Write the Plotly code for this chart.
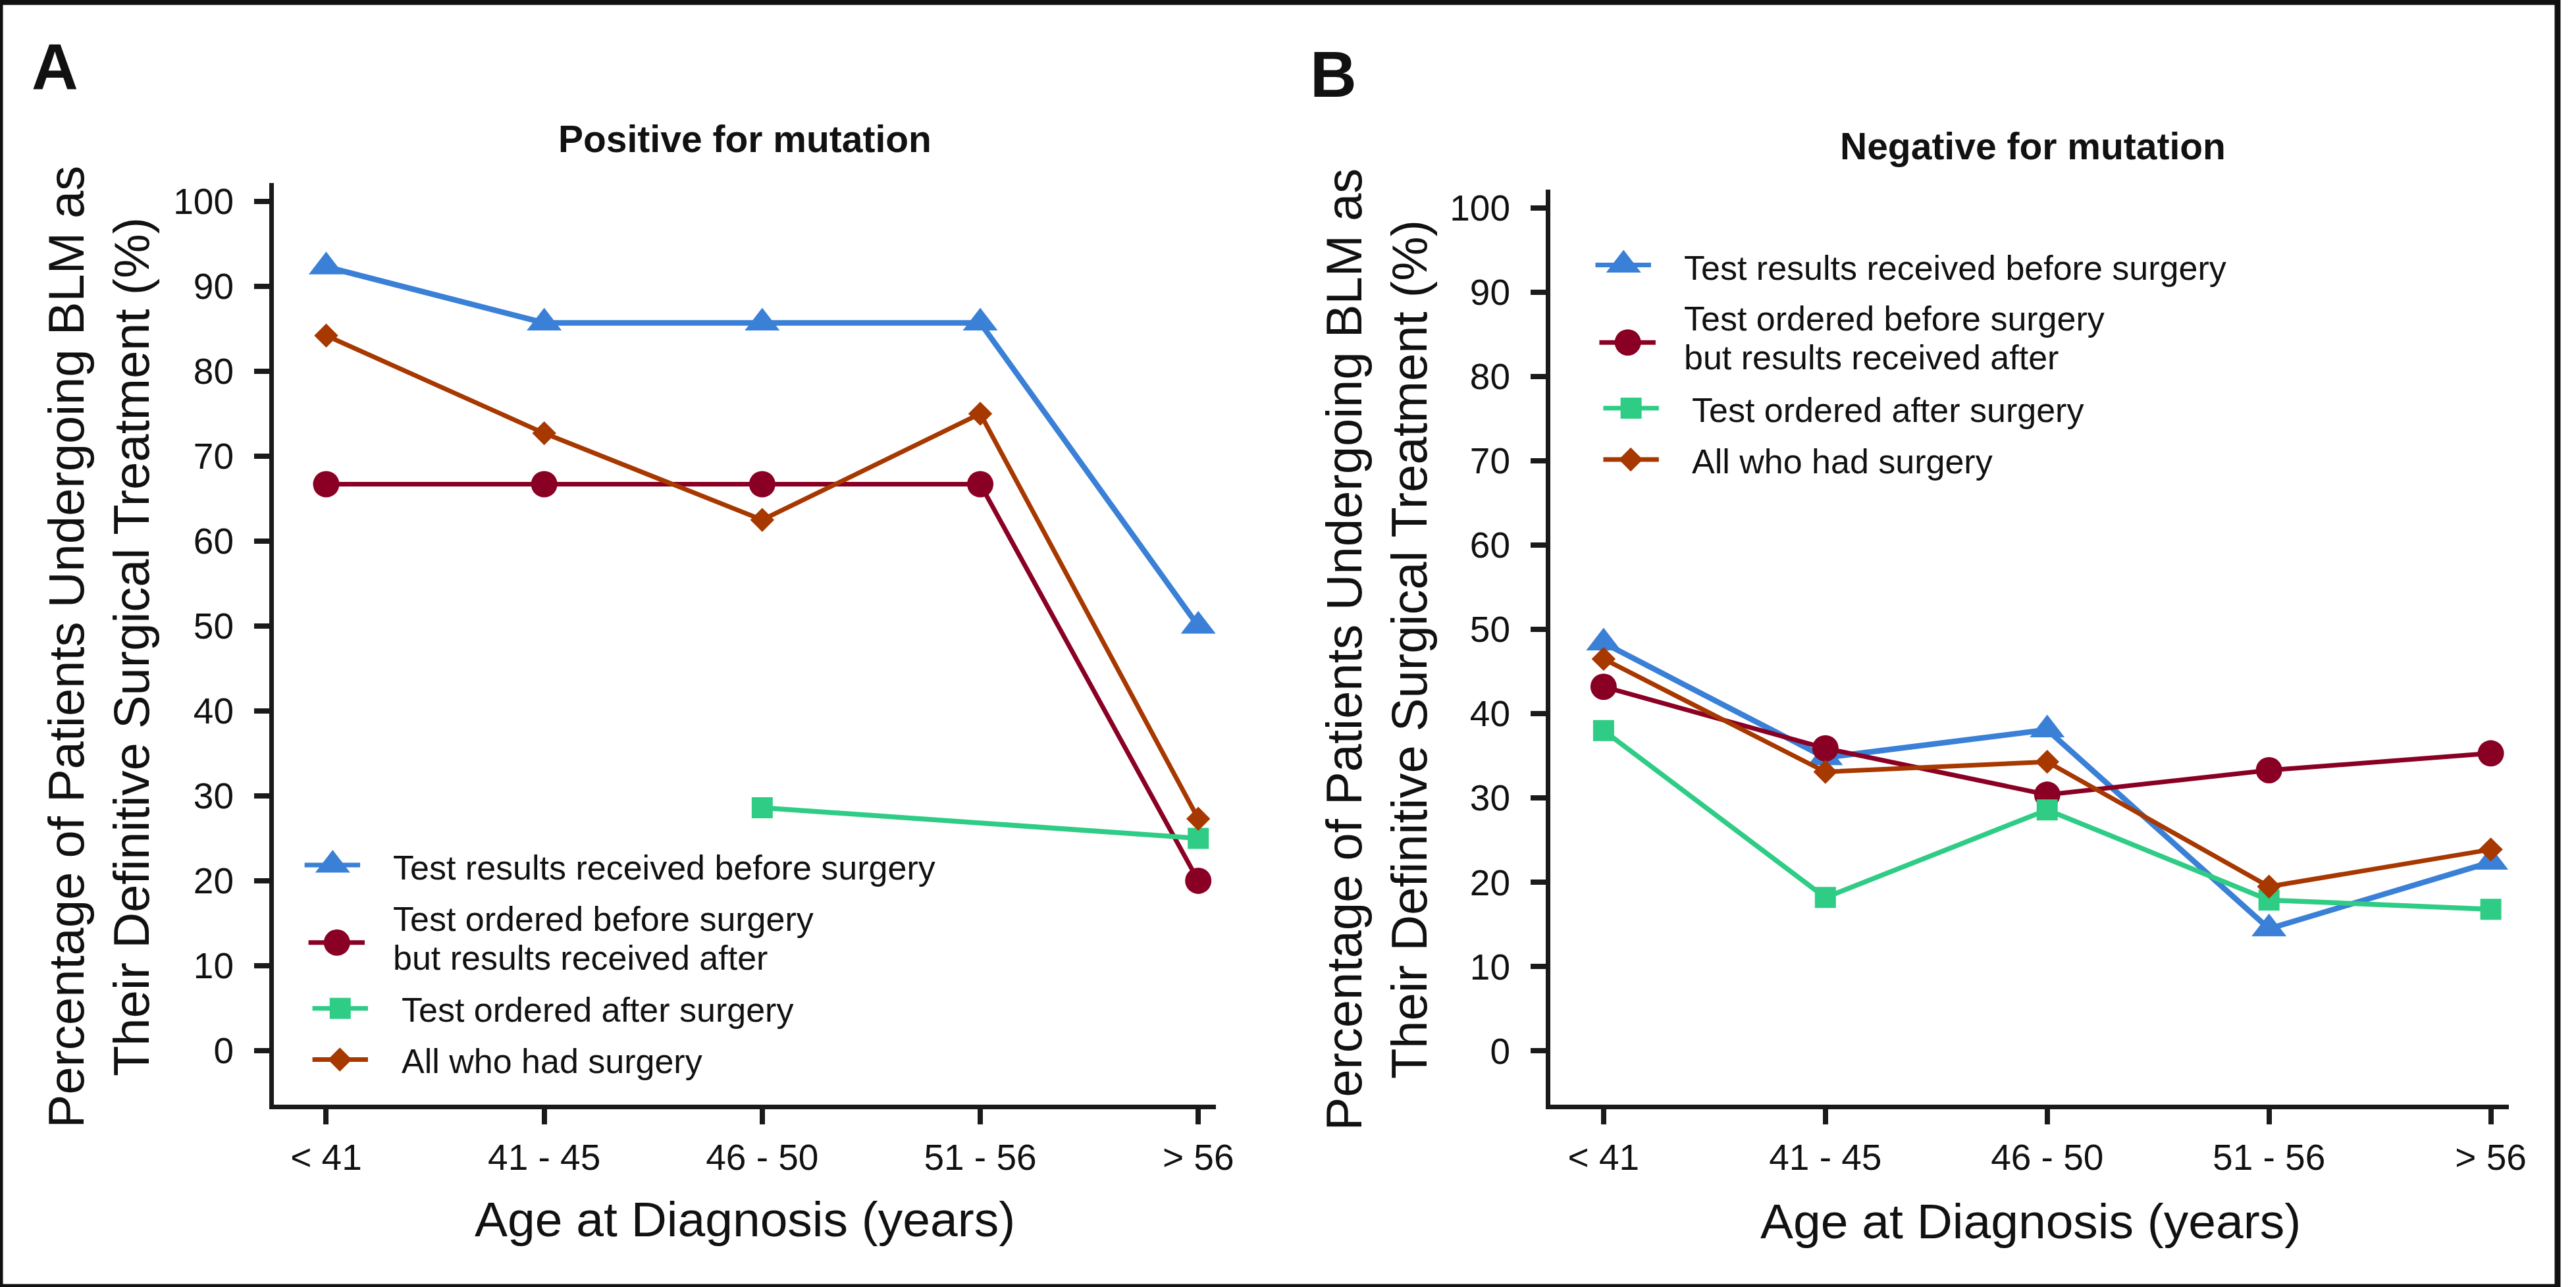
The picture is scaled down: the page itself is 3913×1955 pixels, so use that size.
import plotly.graph_objects as go

W, H = 3913, 1955

# ---------------- data ----------------
age_groups = ["< 41", "41 - 45", "46 - 50", "51 - 56", "> 56"]
y_ticks = [0, 10, 20, 30, 40, 50, 60, 70, 80, 90, 100]

series_names = [
    "Test results received before surgery",
    "Test ordered before surgery<br>but results received after",
    "Test ordered after surgery",
    "All who had surgery",
]

# Panel A: positive for mutation
pos_results_before = [92.3, 85.7, 85.7, 85.7, 50.0]
pos_ordered_before = [66.7, 66.7, 66.7, 66.7, 20.0]
pos_ordered_after = [None, None, 28.6, None, 25.0]
pos_all_surgery = [84.2, 72.7, 62.5, 75.0, 27.3]

# Panel B: negative for mutation
neg_results_before = [48.4, 34.8, 38.1, 14.5, 22.4]
neg_ordered_before = [43.2, 35.9, 30.4, 33.3, 35.3]
neg_ordered_after = [38.0, 18.2, 28.6, 17.9, 16.8]
neg_all_surgery = [46.5, 33.1, 34.3, 19.5, 23.9]

panel_titles = ["Positive for mutation", "Negative for mutation"]
panel_letters = ["A", "B"]
x_title = "Age at Diagnosis (years)"
y_title = "Percentage of Patients Undergoing BLM as<br>Their Definitive Surgical Treatment (%)"

# ---------------- style ----------------
colors = ["#3a80d6", "#8a0024", "#2fcc85", "#a63800"]
symbols = ["triangle-up", "circle", "square", "diamond"]
msizes = [46, 40, 32, 28]
lwidths = [8.5, 7, 7.5, 7]
FONT = "Liberation Sans, Arial, Helvetica, sans-serif"
INK = "#111111"


def fx(px):
    return px / W


def fy(py):
    return 1 - py / H


panels = [
    dict(series=[pos_results_before, pos_ordered_before, pos_ordered_after, pos_all_surgery],
         xa="x", ya="y", xdom=[fx(419), fx(1860)], ydom=[fy(1678), fy(275)],
         title_xy=(1140, 208), letter_xy=(84, 98), xt_xy=(1140, 1852), yt_xy=(152, 981),
         leg=(509, 1313)),
    dict(series=[neg_results_before, neg_ordered_before, neg_ordered_after, neg_all_surgery],
         xa="x2", ya="y2", xdom=[fx(2372), fx(3838)], ydom=[fy(1678), fy(285)],
         title_xy=(3110, 219), letter_xy=(2040, 110), xt_xy=(3107, 1855), yt_xy=(2107, 985),
         leg=(2484, 400)),
]

fig = go.Figure()
annotations = []

for p_i, p in enumerate(panels):
    for s_i, vals in enumerate(p["series"]):
        fig.add_trace(go.Scatter(
            x=age_groups, y=vals, xaxis=p["xa"], yaxis=p["ya"],
            mode="lines+markers", connectgaps=True,
            name=series_names[s_i].replace("<br>", " "),
            line=dict(color=colors[s_i], width=lwidths[s_i]),
            marker=dict(symbol=symbols[s_i], size=msizes[s_i], color=colors[s_i]),
            showlegend=False, hoverinfo="skip",
        ))

    # panel title, letter, axis titles
    annotations.append(dict(text="<b>%s</b>" % panel_titles[p_i], x=fx(p["title_xy"][0]), y=fy(p["title_xy"][1]),
                            xref="paper", yref="paper", showarrow=False, xanchor="center", yanchor="middle",
                            font=dict(family=FONT, size=57, color=INK)))
    annotations.append(dict(text="<b>%s</b>" % panel_letters[p_i], x=fx(p["letter_xy"][0]), y=fy(p["letter_xy"][1]),
                            xref="paper", yref="paper", showarrow=False, xanchor="center", yanchor="middle",
                            font=dict(family=FONT, size=98, color=INK)))
    annotations.append(dict(text=x_title, x=fx(p["xt_xy"][0]), y=fy(p["xt_xy"][1]),
                            xref="paper", yref="paper", showarrow=False, xanchor="center", yanchor="middle",
                            font=dict(family=FONT, size=75, color=INK)))
    annotations.append(dict(text=y_title, x=fx(p["yt_xy"][0]), y=fy(p["yt_xy"][1]), textangle=-90,
                            xref="paper", yref="paper", showarrow=False, xanchor="center", yanchor="middle",
                            font=dict(family=FONT, size=76, color=INK)))

    # custom legend (drawn on an overlay axis in pixel units)
    ox, oy = p["leg"]
    leg_marker = [(0, 0), (6.5, 118), (11.5, 218), (11, 296)]
    leg_line = [(-43, 42), (-37, 49), (-31, 54), (-31, 54)]
    leg_text_x = [90, 90, 103, 103]
    leg_base = [[22.6], [100, 159], [239], [317]]
    for s_i in range(4):
        mx, my = ox + leg_marker[s_i][0], oy + leg_marker[s_i][1]
        fig.add_trace(go.Scatter(
            x=[ox + leg_line[s_i][0], ox + leg_line[s_i][1]], y=[my, my], xaxis="x3", yaxis="y3",
            mode="lines", line=dict(color=colors[s_i], width=7), showlegend=False, hoverinfo="skip"))
        fig.add_trace(go.Scatter(
            x=[mx], y=[my], xaxis="x3", yaxis="y3", mode="markers",
            marker=dict(symbol=symbols[s_i], size=msizes[s_i], color=colors[s_i]),
            showlegend=False, hoverinfo="skip"))
        for li, line_txt in enumerate(series_names[s_i].split("<br>")):
            base = oy + leg_base[s_i][li]
            annotations.append(dict(text=line_txt, x=fx(ox + leg_text_x[s_i]), y=fy(base - 0.35 * 52),
                                    xref="paper", yref="paper", showarrow=False,
                                    xanchor="left", yanchor="middle",
                                    font=dict(family=FONT, size=52, color=INK)))

axis_common = dict(showline=True, linecolor="#1a1a1a", linewidth=7, ticks="outside", ticklen=23,
                   tickwidth=8, tickcolor="#1a1a1a", showgrid=False, zeroline=False,
                   tickfont=dict(family=FONT, size=55, color=INK))

layout = dict(
    width=W, height=H, autosize=False,
    margin=dict(l=0, r=0, t=0, b=0, pad=0),
    paper_bgcolor="white", plot_bgcolor="rgba(0,0,0,0)",
    showlegend=False,
    annotations=annotations,
    shapes=[dict(type="rect", xref="paper", yref="paper", x0=0, x1=1, y0=0, y1=1,
                 line=dict(color="#111111", width=9))],
    xaxis3=dict(domain=[0, 1], range=[0, W], visible=False, anchor="y3", fixedrange=True),
    yaxis3=dict(domain=[0, 1], range=[H, 0], visible=False, anchor="x3", fixedrange=True),
)
for p in panels:
    xk = "xaxis" if p["xa"] == "x" else "xaxis2"
    yk = "yaxis" if p["ya"] == "y" else "yaxis2"
    layout[xk] = dict(axis_common, domain=p["xdom"], anchor=p["ya"], type="category",
                      categoryorder="array", categoryarray=age_groups, range=[-0.24, 4.08],
                      ticklabelstandoff=3)
    layout[yk] = dict(axis_common, domain=p["ydom"], anchor=p["xa"], range=[-6.4, 102.2],
                      tickmode="array", tickvals=y_ticks, ticklabelstandoff=20)

fig.update_layout(**layout)

fig.write_html("out.html", config={"displayModeBar": False},
               post_script="document.body.style.margin='0px';document.body.style.overflow='hidden';")
